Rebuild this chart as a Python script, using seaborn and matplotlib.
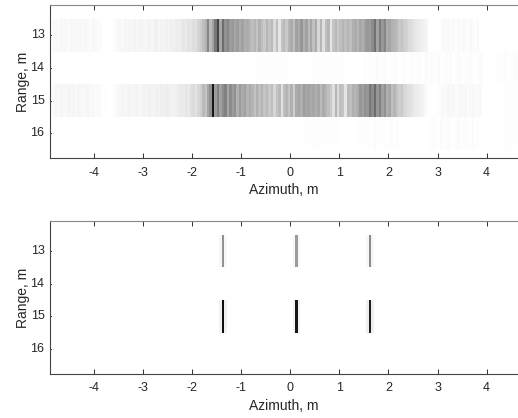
import numpy as np
import seaborn as sns
import matplotlib.pyplot as plt
from matplotlib.colors import PowerNorm

sns.set_theme(style="white")
plt.rcParams['font.family'] = ['Liberation Sans', 'DejaVu Sans']

# --- Data: darkness (0-100) per azimuth bin, bins are 0.05 m wide ---
azimuth_start = -4.85
azimuth_step = 0.05
range_start = 12.5
xticks = [-4, -3, -2, -1, 0, 1, 2, 3, 4]
yticks = [13, 14, 15, 16]

top_13 = [3, 4, 3, 5, 4, 5, 3, 5, 4, 5,
          4, 5, 4, 5, 4, 3, 5, 4, 3, 3,
          0, 0, 0, 0, 1, 3, 4, 5, 4, 6,
          5, 6, 5, 7, 5, 6, 7, 5, 6, 7,
          5, 6, 8, 5, 7, 6, 8, 7, 9, 8,
          10, 9, 11, 13, 12, 15, 14, 17, 16, 22,
          25, 30, 36, 52, 32, 42, 58, 76, 40, 62,
          48, 52, 44, 46, 40, 44, 38, 42, 36, 38,
          34, 30, 34, 28, 36, 30, 26, 34, 28, 32,
          18, 30, 14, 28, 32, 26, 34, 38, 30, 42,
          38, 46, 36, 42, 32, 40, 30, 38, 20, 34,
          16, 30, 34, 14, 28, 32, 26, 30, 34, 30,
          34, 30, 36, 38, 34, 40, 36, 42, 46, 44,
          50, 60, 42, 56, 46, 52, 38, 40, 36, 34,
          32, 26, 28, 24, 22, 18, 16, 15, 12, 11,
          9, 8, 6, 1, 0, 0, 0, 0, 2, 4,
          3, 4, 3, 4, 2, 4, 3, 4, 3, 2,
          4, 3, 2, 4, 0, 0, 0, 0, 0, 0,
          0, 0, 0, 0, 0, 0, 0, 0, 0, 0, 0]

top_14 = [0, 0, 0, 0, 0, 0, 0, 0, 0, 0,
          0, 0, 0, 0, 0, 1, 0, 0, 0, 0,
          0, 0, 0, 0, 0, 0, 0, 0, 0, 0,
          0, 0, 0, 0, 0, 0, 0, 0, 0, 0,
          0, 0, 0, 0, 0, 0, 0, 0, 0, 0,
          0, 0, 0, 0, 0, 0, 0, 0, 0, 0,
          0, 0, 0, 0, 0, 0, 0, 0, 0, 0,
          0, 0, 0, 0, 0, 0, 0, 0, 0, 0,
          0, 0, 1, 2, 1, 2, 1, 1, 2, 1,
          2, 1, 2, 1, 1, 2, 1, 1, 0, 0,
          0, 0, 0, 0, 0, 1, 2, 1, 2, 1,
          2, 1, 1, 2, 1, 2, 1, 2, 1, 1,
          0, 0, 0, 0, 0, 0, 1, 2, 1, 2,
          1, 2, 3, 1, 2, 3, 1, 2, 1, 3,
          2, 1, 2, 3, 1, 2, 3, 1, 2, 3,
          2, 1, 3, 2, 3, 1, 2, 3, 2, 1,
          3, 2, 3, 1, 2, 3, 2, 1, 3, 2,
          3, 2, 1, 2, 3, 1, 0, 0, 0, 0,
          0, 2, 1, 2, 3, 2, 1, 2, 3, 2, 1]

top_15 = [3, 5, 4, 6, 5, 4, 6, 5, 6, 4,
          6, 5, 4, 5, 6, 4, 5, 3, 4, 3,
          1, 2, 1, 0, 1, 2, 4, 5, 6, 5,
          6, 7, 5, 6, 7, 5, 6, 7, 6, 8,
          7, 6, 8, 7, 9, 8, 10, 9, 8, 7,
          9, 10, 12, 11, 14, 12, 16, 18, 15, 20,
          24, 32, 28, 40, 48, 92, 44, 54, 42, 50,
          54, 40, 50, 44, 48, 36, 44, 38, 42, 34,
          38, 34, 28, 36, 30, 34, 28, 32, 26, 30,
          20, 28, 32, 16, 30, 34, 28, 36, 24, 38,
          40, 36, 44, 40, 42, 38, 40, 36, 40, 32,
          38, 34, 30, 26, 16, 34, 18, 30, 28, 14,
          32, 30, 36, 34, 38, 46, 42, 48, 46, 58,
          50, 62, 46, 54, 42, 48, 36, 40, 30, 34,
          28, 24, 26, 20, 18, 16, 14, 12, 10, 9,
          8, 6, 3, 1, 1, 0, 1, 2, 3, 4,
          3, 5, 4, 5, 3, 4, 5, 4, 5, 3,
          4, 5, 3, 4, 4, 0, 0, 0, 0, 0,
          0, 0, 0, 0, 1, 2, 1, 2, 1, 2, 1]

top_16 = [0, 0, 0, 0, 0, 0, 0, 0, 0, 0,
          0, 0, 0, 0, 0, 0, 0, 0, 0, 0,
          0, 0, 0, 0, 0, 0, 0, 0, 0, 0,
          0, 0, 0, 0, 0, 0, 0, 0, 0, 0,
          0, 0, 0, 0, 0, 0, 0, 0, 0, 0,
          0, 0, 0, 0, 0, 0, 0, 0, 0, 0,
          0, 0, 0, 0, 0, 0, 0, 0, 0, 0,
          0, 0, 0, 0, 0, 0, 0, 0, 0, 0,
          0, 0, 0, 0, 0, 0, 0, 0, 0, 0,
          0, 0, 0, 0, 0, 0, 0, 0, 0, 0,
          0, 0, 1, 2, 1, 1, 2, 1, 2, 1,
          1, 2, 1, 1, 2, 1, 2, 1, 0, 0,
          0, 0, 0, 1, 2, 1, 1, 2, 1, 2,
          1, 3, 1, 2, 1, 2, 1, 2, 3, 1,
          2, 1, 0, 0, 0, 0, 0, 0, 0, 0,
          0, 0, 0, 2, 1, 3, 2, 1, 3, 2,
          1, 3, 2, 1, 2, 3, 1, 2, 3, 1,
          2, 3, 1, 2, 0, 0, 0, 0, 0, 0,
          0, 0, 0, 1, 2, 1, 2, 1, 2, 1, 2]

# bottom panel only has the three focused targets
bottom_13 = [0] * 68 + [5, 48, 5] + [0] * 27 + [5, 44, 5] + [0] * 27 + [5, 50, 5] + [0] * 60
bottom_14 = [0] * 191
bottom_15 = [0] * 68 + [8, 95, 8] + [0] * 27 + [7, 92, 7] + [0] * 27 + [9, 90, 9] + [0] * 60
bottom_16 = [0] * 191


def draw_panel(ax, rows):
    sns.heatmap(np.array(rows), ax=ax, cmap="gray_r", norm=PowerNorm(1.15, vmin=0, vmax=100),
                cbar=False, antialiased=True)
    ax.set_xlim(-1, 189.8)
    ax.set_ylim(4.26, -0.42)
    ax.set_xticks([(v - azimuth_start) / azimuth_step for v in xticks])
    ax.set_xticklabels(xticks, rotation=0)
    ax.set_yticks([v - range_start for v in yticks])
    ax.set_yticklabels(yticks, rotation=0)
    ax.tick_params(direction="in", length=3.6, width=0.7, color="#333333",
                   top=True, right=True, bottom=True, left=True,
                   labelsize=9, labelcolor="#262626", pad=6)
    ax.tick_params(axis="y", pad=4)
    ax.set_xlabel("Azimuth, m", fontsize=10, color="#262626", labelpad=3)
    ax.set_ylabel("Range, m", fontsize=10, color="#262626", labelpad=0)
    for name, col in [("left", "#444444"), ("bottom", "#444444"), ("top", "#888888")]:
        ax.spines[name].set_visible(True)
        ax.spines[name].set_color(col)
        ax.spines[name].set_linewidth(0.8)
    ax.spines["right"].set_visible(False)


W, H = 518, 418
fig = plt.figure(figsize=(W / 100, H / 100), dpi=100)
ax1 = fig.add_axes([50 / W, 1 - 158.3 / H, 468 / W, 153.3 / H])
ax2 = fig.add_axes([50 / W, 1 - 374 / H, 468 / W, 153 / H])

draw_panel(ax1, [top_13, top_14, top_15, top_16])
draw_panel(ax2, [bottom_13, bottom_14, bottom_15, bottom_16])

fig.savefig("out.png", dpi=100)
